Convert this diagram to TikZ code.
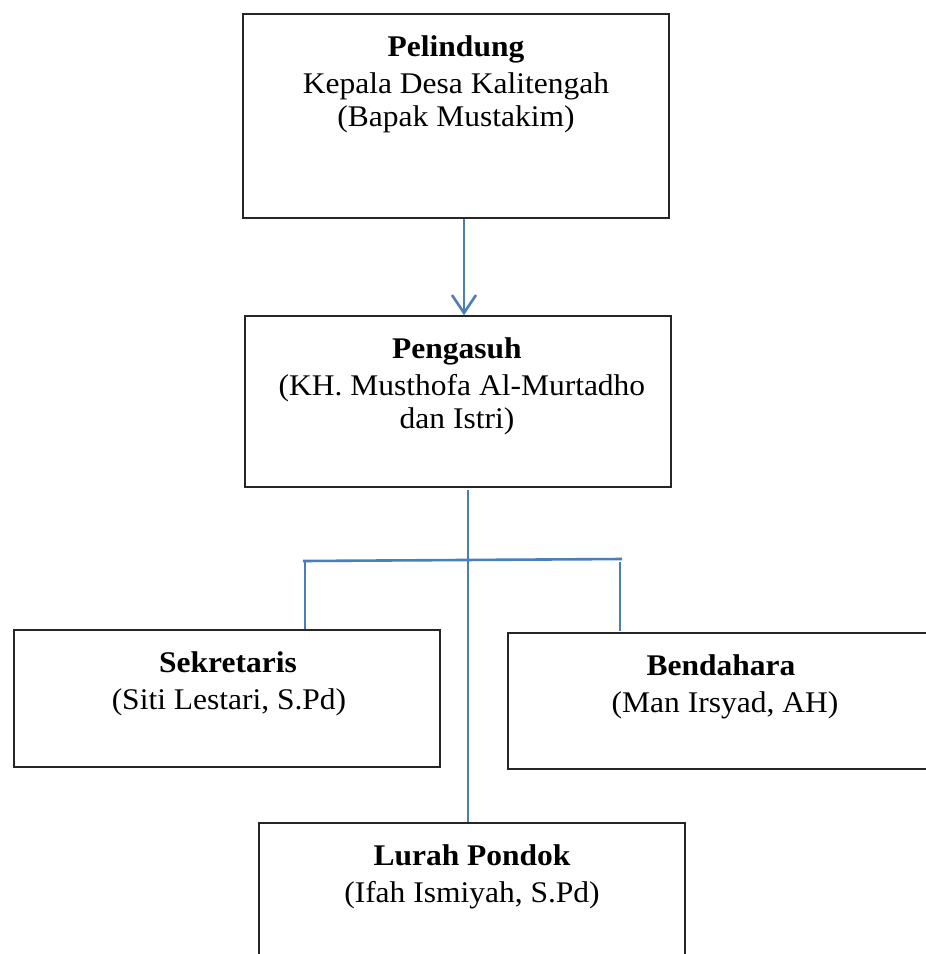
\documentclass[tikz,border=0pt]{standalone}
\usepackage{fontspec}
\setmainfont[FakeStretch=1.05]{Liberation Serif}
\usetikzlibrary{arrows.meta}
\definecolor{linkblue}{HTML}{4A7EBB}
\tikzset{
  box/.style={draw=black!85, line width=1.3pt, rectangle, inner sep=0pt},
  txt/.style={anchor=base, inner sep=0pt, font=\fontsize{30}{30}\selectfont},
  ttl/.style={txt, font=\fontsize{30}{30}\selectfont\bfseries},
  conn/.style={draw=linkblue, line width=2.6pt},
  arrowconn/.style={conn, -{Straight Barb[length=18pt,width=24pt,line width=2.6pt]}}
}
\begin{document}
\begin{tikzpicture}[x=1pt,y=-1pt]
\useasboundingbox (0,0) rectangle (926,954);
\clip (0,0) rectangle (926,954);
\fill[white] (0,0) rectangle (926,954);

% boxes
\node[box, minimum width=426pt, minimum height=204pt] (pel) at (456,116) {};
\node[box, minimum width=426pt, minimum height=171pt] (peng) at (458,401.5) {};
\node[box, minimum width=426pt, minimum height=137pt] (sek) at (227,698.5) {};
\node[box, minimum width=430pt, minimum height=136pt] (bend) at (723,701) {};
\node[box, minimum width=426pt, minimum height=170pt] (lur) at (472,908) {};

% texts
\node[ttl] (pelT) at (456,56) {Pelindung};
\node[txt] (pelA) at (456,93) {Kepala Desa Kalitengah};
\node[txt] (pelB) at (456,126) {(Bapak Mustakim)};

\node[ttl] (pengT) at (457,358) {Pengasuh};
\node[txt] (pengA) at (462,395) {(KH. Musthofa Al-Murtadho};
\node[txt] (pengB) at (457,428) {dan Istri)};

\node[ttl] (sekT) at (228,672) {Sekretaris};
\node[txt] (sekA) at (229,709) {(Siti Lestari, S.Pd)};

\node[ttl] (bendT) at (721,675) {Bendahara};
\node[txt] (bendA) at (725,712) {(Man Irsyad, AH)};

\node[ttl] (lurT) at (472,865) {Lurah Pondok};
\node[txt] (lurA) at (472,902) {(Ifah Ismiyah, S.Pd)};

% connectors
\coordinate (ax) at (464,0);
\draw[arrowconn] (pel.south -| ax) -- (peng.north -| ax);

\coordinate (trunk) at (468,490);
\draw[conn] (trunk) -- (lur.north -| trunk);

\coordinate (hl) at (303,561);
\coordinate (hr) at (622,559);
\draw[conn] (hl) -- (hr);

\coordinate (lv) at (305,561);
\draw[conn] (lv) -- (sek.north -| lv);

\coordinate (rv) at (620,562);
\draw[conn] (rv) -- (620,631);
\end{tikzpicture}
\end{document}
